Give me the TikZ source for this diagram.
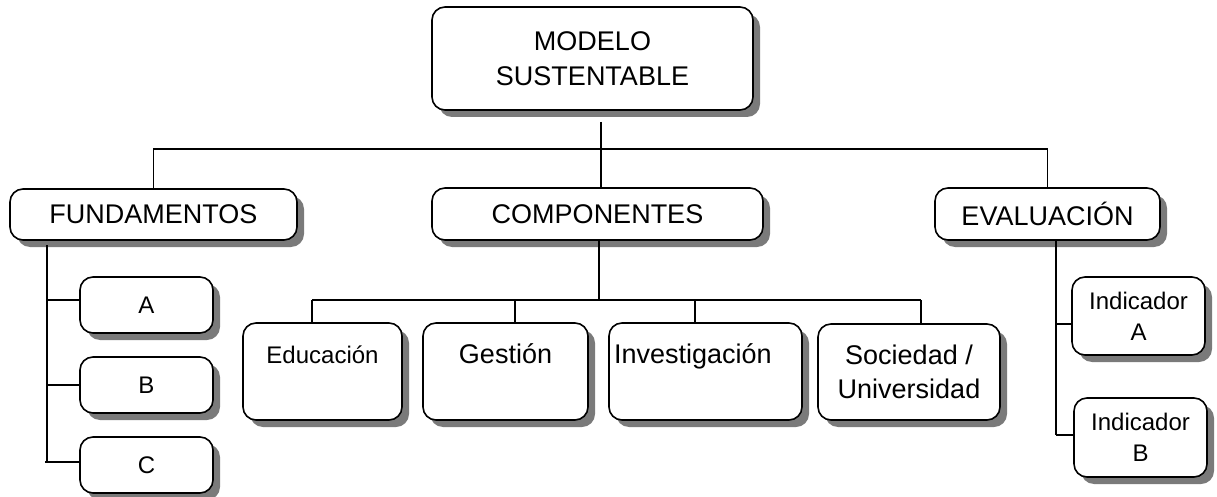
\documentclass[tikz,border=0pt]{standalone}
\usepackage{fontspec}
\setmainfont{Liberation Sans}
\usetikzlibrary{shadows,calc}
\newcommand\bigtxt{\fontsize{27}{35}\selectfont}
\newcommand\smalltxt{\fontsize{24}{31}\selectfont}
\tikzset{
  box/.style={draw, line width=1.6pt, rounded corners=13pt, fill=white,
    drop shadow={shadow xshift=7pt, shadow yshift=-7pt, fill=black!52, opacity=1},
    inner sep=0pt, align=center, font=\bigtxt},
  dims/.style 2 args={minimum width=#1pt, minimum height=#2pt},
  conn/.style={line width=1.3pt},
}
\begin{document}
\begin{tikzpicture}[x=1pt,y=-1pt]
\useasboundingbox (0,0) rectangle (1217,497);
% main nodes
\node[box, dims={321}{103}] (top) at (592.5,58.5) {MODELO\\SUSTENTABLE};
\node[box, dims={287}{51}] (fund) at (153.5,214.5) {FUNDAMENTOS};
\node[box, dims={331}{52}] (comp) at (597.5,214) {COMPONENTES};
\node[box, dims={225}{52}] (eval) at (1047.5,214) {EVALUACIÓN};
% fundamentos children
\node[box, dims={133}{56}, font=\smalltxt] (fa) at (146.5,305) {A};
\node[box, dims={133}{56}, font=\smalltxt] (fb) at (146.5,385) {B};
\node[box, dims={133}{56}, font=\smalltxt] (fc) at (146.5,465) {C};
% componentes children
\node[box, dims={159}{97}, font=\smalltxt] (edu) at (322.5,371.5) {Educación\\[2pt]\phantom{X}};
\node[box, dims={165}{97}] (ges) at (505.5,371.5) {Gestión\\\phantom{X}};
\node[box, dims={193}{97}, text width=183pt, align=left] (inv) at (705.5,371.5) {Investigación\\\phantom{X}};
\node[box, dims={182}{96}, font=\fontsize{27}{34}\selectfont] (soc) at (909,372) {Sociedad /\\Universidad};
% evaluacion children
\node[box, dims={133}{78}, font=\smalltxt] (ia) at (1138.5,316) {Indicador\\A};
\node[box, dims={133}{79}, font=\smalltxt] (ib) at (1140.5,437.5) {Indicador\\B};
% coordinates
\coordinate (tstem) at (601,122);
\coordinate (hub) at (601,149);
\coordinate (bus) at (599,300);
\coordinate (edux) at (312,300);
\coordinate (gesx) at (515,300);
\coordinate (invx) at (695,300);
\coordinate (socx) at (921,300);
\coordinate (fundx) at (47,245);
\coordinate (evalx) at (1056,240);
% connectors
\draw[conn] (tstem) -- (tstem |- comp.north);
\draw[conn] (fund.north) |- (hub) -| (eval.north);
\draw[conn] (comp.south -| bus) -- (bus);
\draw[conn] (edux) -- (socx);
\draw[conn] (edux) -- (edux |- edu.north);
\draw[conn] (gesx) -- (gesx |- ges.north);
\draw[conn] (invx) -- (invx |- inv.north);
\draw[conn] (socx) -- (socx |- soc.north);
\draw[conn] (fundx) -- ($(fundx |- fc.west)+(0,-3)$);
\draw[conn] ($(fundx |- fa.west)+(0,-5)$) -- ($(fa.west)+(0,-5)$);
\draw[conn] (fundx |- fb.west) -- (fb.west);
\draw[conn] ($(fundx |- fc.west)+(-2,-3)$) -- ($(fc.west)+(0,-3)$);
\draw[conn] (evalx) -- ($(evalx |- ib.west)+(0,-2.5)$);
\draw[conn] ($(evalx |- ia.west)+(0,8)$) -- ($(ia.west)+(0,8)$);
\draw[conn] ($(evalx |- ib.west)+(0,-2.5)$) -- ($(ib.west)+(0,-2.5)$);
\end{tikzpicture}
\end{document}
